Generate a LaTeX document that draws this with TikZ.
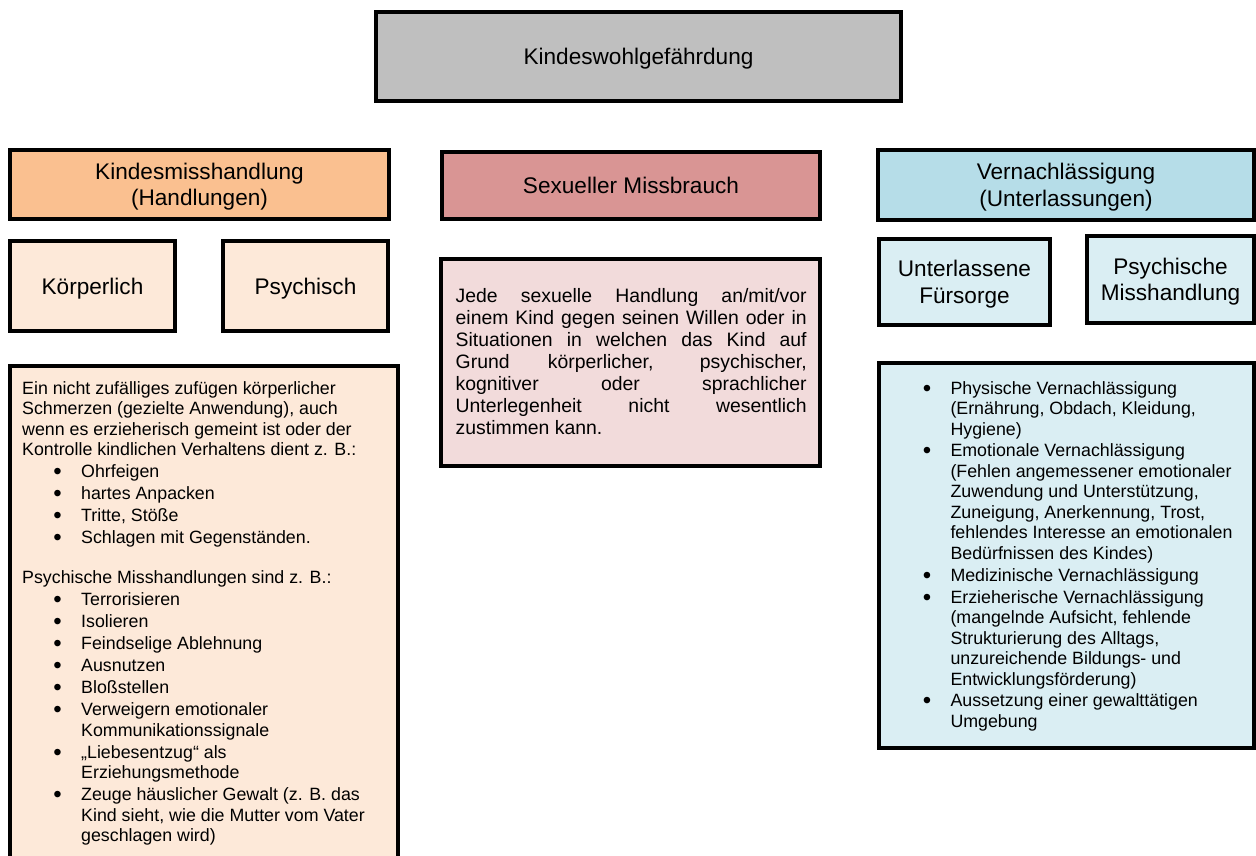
\documentclass[tikz,border=0pt]{standalone}
\usepackage{fontspec}
\setmainfont{Liberation Sans}

\definecolor{greybox}{HTML}{BFBFBF}
\definecolor{orangehead}{HTML}{FAC090}
\definecolor{orangelight}{HTML}{FDE9D9}
\definecolor{redhead}{HTML}{D99594}
\definecolor{redlight}{HTML}{F2DBDB}
\definecolor{bluehead}{HTML}{B6DDE8}
\definecolor{bluelight}{HTML}{DAEEF3}

\newcommand{\itembul}{\hspace*{35.5pt}\makebox[0pt]{\raisebox{-2pt}{\fontsize{24}{24}\selectfont\textbullet}}\hspace*{23.5pt}}
\newcommand{\itemind}{\hspace*{59pt}}

\begin{document}
\begin{tikzpicture}[x = 1pt, y = -1pt,
  box/.style = {draw, line width = 4pt, inner sep = 0pt, align = center},
  head/.style = {box, text depth = 0pt, font = \fontsize{22.6}{26.5}\selectfont},
  body/.style = {inner sep = 0pt, anchor = base west, font = \fontsize{17.8}{20.5}\selectfont}]

\useasboundingbox (0, 0) rectangle (1256, 855);

 \node[head, fill = greybox, minimum width = 525pt, minimum height = 89pt] (wohl) at (638.5, 56.5) {Kindeswohlgefährdung};

 \node[head, fill = orangehead, minimum width = 379pt, minimum height = 69pt] (miss) at (199.5, 184.5) {Kindesmisshandlung\\(Handlungen)};
 \node[head, fill = redhead, minimum width = 378pt, minimum height = 67pt] (sex) at (631, 185.5) {Sexueller Missbrauch};
 \node[head, fill = bluehead, minimum width = 376pt, minimum height = 70pt] (vern) at (1066, 185) {Vernachlässigung\\(Unterlassungen)};

 \node[head, fill = orangelight, minimum width = 165pt, minimum height = 90pt] (koerp) at (92.5, 286) {Körperlich};
 \node[head, fill = orangelight, minimum width = 165pt, minimum height = 90pt] (psych) at (305.5, 286) {Psychisch};
 \node[head, fill = bluelight, minimum width = 171pt, minimum height = 86pt] (fuers) at (964.5, 282) {Unterlassene\\Fürsorge};
 \node[head, fill = bluelight, minimum width = 167pt, minimum height = 87pt] (pmiss) at (1170.5, 279.5) {Psychische\\Misshandlung};

 \node[box, fill = orangelight, minimum width = 388pt, minimum height = 534pt] (lbox) at (204, 633) {};
 \node[box, fill = redlight, minimum width = 379pt, minimum height = 207pt] (mbox) at (630.5, 362.5) {};
 \node[box, fill = bluelight, minimum width = 375pt, minimum height = 385pt] (rbox) at (1066.5, 555.5) {};

 % base of a multi-line node is its last line
 \node[body, align = left] (ltext) at (22, 841.5) {Ein nicht zufälliges zufügen körperlicher\\
  Schmerzen (gezielte Anwendung), auch\\
  wenn es erzieherisch gemeint ist oder der\\
  Kontrolle kindlichen Verhaltens dient z. B.:\\[1.5pt]
  \itembul Ohrfeigen\\[1.5pt]
  \itembul hartes Anpacken\\[1.5pt]
  \itembul Tritte, Stöße\\[1.5pt]
  \itembul Schlagen mit Gegenständen.\\[19.5pt]
  Psychische Misshandlungen sind z. B.:\\[1.5pt]
  \itembul Terrorisieren\\[1.5pt]
  \itembul Isolieren\\[1.5pt]
  \itembul Feindselige Ablehnung\\[1.5pt]
  \itembul Ausnutzen\\[1.5pt]
  \itembul Bloßstellen\\[1.5pt]
  \itembul Verweigern emotionaler\\
  \itemind Kommunikationssignale\\[1.5pt]
  \itembul „Liebesentzug“ als\\
  \itemind Erziehungsmethode\\[1.5pt]
  \itembul Zeuge häuslicher Gewalt (z. B. das\\
  \itemind Kind sieht, wie die Mutter vom Vater\\
  \itemind geschlagen wird)};

 \node[body, text width = 351pt, align = justify, font = \fontsize{19.4}{21.9}\selectfont] (mtext) at (455.5, 302.7)
  {Jede sexuelle Handlung an/mit/vor\linebreak einem Kind gegen seinen Willen oder in\linebreak Situationen in welchen das Kind auf\linebreak Grund körperlicher, psychischer,\linebreak kognitiver oder sprachlicher\linebreak Unterlegenheit nicht wesentlich\linebreak zustimmen kann.};

 \node[body, align = left] (rtext) at (891.3, 727) {\itembul Physische Vernachlässigung\\
  \itemind (Ernährung, Obdach, Kleidung,\\
  \itemind Hygiene)\\[1pt]
  \itembul Emotionale Vernachlässigung\\
  \itemind (Fehlen angemessener emotionaler\\
  \itemind Zuwendung und Unterstützung,\\
  \itemind Zuneigung, Anerkennung, Trost,\\
  \itemind fehlendes Interesse an emotionalen\\
  \itemind Bedürfnissen des Kindes)\\[2pt]
  \itembul Medizinische Vernachlässigung\\[1pt]
  \itembul Erzieherische Vernachlässigung\\
  \itemind (mangelnde Aufsicht, fehlende\\
  \itemind Strukturierung des Alltags,\\
  \itemind unzureichende Bildungs- und\\
  \itemind Entwicklungsförderung)\\[1pt]
  \itembul Aussetzung einer gewalttätigen\\
  \itemind Umgebung};
\end{tikzpicture}
\end{document}
